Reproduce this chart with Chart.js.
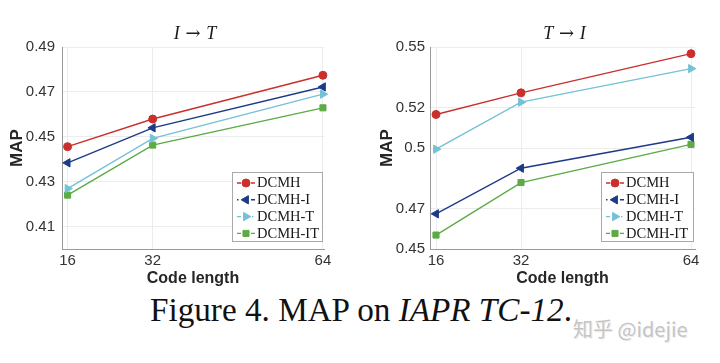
<!DOCTYPE html>
<html>
<head>
<meta charset="utf-8">
<script src="https://cdn.jsdelivr.net/npm/chart.js"></script>
<style>
  html, body { margin: 0; padding: 0; background: #fff; }
  body { width: 720px; height: 363px; position: relative; overflow: hidden; }
  .cv { position: absolute; top: 0; }
  #caption { position: absolute; left: 150px; top: 293px; font-family: "Liberation Serif", "Times New Roman", serif; font-size: 33.2px; line-height: 34px; color: #111; white-space: nowrap; }
  #watermark { position: absolute; left: 573px; top: 316px; font-family: "Noto Sans CJK SC", "Noto Sans", sans-serif; font-size: 20px; line-height: 26px; color: #c4c4c4; white-space: nowrap; text-shadow: 0 0 1px #fff, 1px 1px 1px #e8e8e8; }
</style>
</head>
<body>
<div class="cv" style="left:0px;width:360px;height:290px;"><canvas id="c1" width="360" height="290"></canvas></div>
<div class="cv" style="left:360px;width:360px;height:290px;"><canvas id="c2" width="360" height="290"></canvas></div>
<div id="caption">Figure 4. MAP on <i>IAPR TC-12</i>.</div>
<div id="watermark">知乎 @idejie</div>
<script>
// ---------- data ----------
const codeLengths = [16, 32, 64];
const seriesNames = ['DCMH', 'DCMH-I', 'DCMH-T', 'DCMH-IT'];

// I -> T
const i2tDCMH    = [0.4456, 0.4579, 0.4774];
const i2tDCMH_I  = [0.4384, 0.4540, 0.4722];
const i2tDCMH_T  = [0.4269, 0.4493, 0.4690];
const i2tDCMH_IT = [0.4240, 0.4463, 0.4629];

// T -> I
const t2iDCMH    = [0.5166, 0.5273, 0.5467];
const t2iDCMH_I  = [0.4674, 0.4900, 0.5053];
const t2iDCMH_T  = [0.4994, 0.5227, 0.5393];
const t2iDCMH_IT = [0.4569, 0.4829, 0.5018];

const yTicksI2T = [0.41, 0.43, 0.45, 0.47, 0.49];
const yTickLabelsI2T = ['0.41', '0.43', '0.45', '0.47', '0.49'];
const yTicksT2I = [0.45, 0.47, 0.5, 0.52, 0.55];
const yTickLabelsT2I = ['0.45', '0.47', '0.5', '0.52', '0.55'];
const xTickLabels = ['16', '32', '64'];

// ---------- styles ----------
const styles = [
  { color: '#c9302c', pointStyle: 'circle',   radius: 4,   rotation: 0,   dash: [4, 10] },
  { color: '#1d3a86', pointStyle: 'triangle', radius: 4.8, rotation: -90, dash: [1.5, 12.5, 4, 10] },
  { color: '#74c2d6', pointStyle: 'triangle', radius: 4.8, rotation: 90,  dash: [4, 11, 1.5, 10] },
  { color: '#5cab45', pointStyle: 'rect',     radius: 4.3, rotation: 0,   dash: [4, 10] }
];

function makeDatasets(seriesList) {
  return seriesList.map((vals, si) => ({
    label: seriesNames[si],
    data: codeLengths.map((x, i) => ({ x: x, y: vals[i] })),
    borderColor: styles[si].color,
    backgroundColor: styles[si].color,
    pointBackgroundColor: styles[si].color,
    pointBorderColor: styles[si].color,
    borderWidth: 1.4,
    pointBorderWidth: 1,
    pointStyle: styles[si].pointStyle,
    pointRadius: styles[si].radius,
    pointRotation: styles[si].rotation,
    pointHoverRadius: styles[si].radius,
    tension: 0,
    clip: false,
    legendDash: styles[si].dash
  }));
}

function drawMarker(ctx, style, r, rot, x, y) {
  if (Chart.helpers && Chart.helpers.drawPoint) {
    Chart.helpers.drawPoint(ctx, { pointStyle: style, radius: r, rotation: rot, borderWidth: 1 }, x, y);
    return;
  }
  ctx.beginPath();
  if (style === 'circle') ctx.arc(x, y, r, 0, Math.PI * 2);
  else if (style === 'rect') { const s = Math.SQRT1_2 * r; ctx.rect(x - s, y - s, 2 * s, 2 * s); }
  else {
    let a = rot * Math.PI / 180;
    ctx.moveTo(x + Math.sin(a) * r, y - Math.cos(a) * r);
    a += 2 * Math.PI / 3; ctx.lineTo(x + Math.sin(a) * r, y - Math.cos(a) * r);
    a += 2 * Math.PI / 3; ctx.lineTo(x + Math.sin(a) * r, y - Math.cos(a) * r);
    ctx.closePath();
  }
  ctx.fill(); ctx.stroke();
}

const boxLegendPlugin = {
  id: 'boxLegend',
  afterDatasetsDraw(chart, args, opts) {
    const ctx = chart.ctx;
    ctx.save();
    ctx.fillStyle = '#ffffff';
    ctx.fillRect(opts.x, opts.y, opts.w, opts.h);
    ctx.strokeStyle = '#a9a9a9';
    ctx.lineWidth = 1;
    ctx.strokeRect(opts.x + 0.5, opts.y + 0.5, opts.w, opts.h);
    chart.data.datasets.forEach((ds, i) => {
      const cy = opts.y + opts.rowStart + i * opts.rowGap;
      const x0 = opts.x + 5;
      ctx.strokeStyle = ds.borderColor;
      ctx.lineWidth = 1.4;
      ctx.setLineDash(ds.legendDash);
      ctx.beginPath();
      ctx.moveTo(x0, cy);
      ctx.lineTo(x0 + 18, cy);
      ctx.stroke();
      ctx.setLineDash([]);
      ctx.fillStyle = ds.pointBackgroundColor;
      ctx.strokeStyle = ds.pointBorderColor;
      ctx.lineWidth = 1;
      drawMarker(ctx, ds.pointStyle, ds.pointRadius, ds.pointRotation, x0 + 9, cy);
      ctx.fillStyle = '#1a1a1a';
      ctx.font = '14.5px "Liberation Serif", "Times New Roman", serif';
      ctx.textBaseline = 'middle';
      ctx.textAlign = 'left';
      ctx.fillText(ds.label, x0 + 20, cy + 0.5);
    });
    ctx.restore();
  }
};

// title like "I → T": italic letters, long upright arrow
const topTitlePlugin = {
  id: 'topTitle',
  afterDraw(chart, args, opts) {
    const ctx = chart.ctx;
    const ca = chart.chartArea;
    ctx.save();
    ctx.fillStyle = '#1a1a1a';
    ctx.textBaseline = 'alphabetic';
    ctx.textAlign = 'left';
    const letterFont = 'italic 18px "Liberation Serif", "Times New Roman", serif';
    const arrowFont = '18px "DejaVu Serif", "Liberation Serif", serif';
    const parts = [
      { t: opts.left, f: letterFont },
      { t: ' \u2192 ', f: arrowFont },
      { t: opts.right, f: letterFont }
    ];
    let total = 0;
    parts.forEach(p => { ctx.font = p.f; p.w = ctx.measureText(p.t).width; total += p.w; });
    let x = (ca.left + ca.right) / 2 + opts.dx - total / 2;
    const y = 39;
    parts.forEach(p => { ctx.font = p.f; ctx.fillText(p.t, x, y); x += p.w; });
    ctx.restore();
  }
};

function makeChart(id, seriesList, cfg) {
  return new Chart(document.getElementById(id), {
    type: 'line',
    data: { datasets: makeDatasets(seriesList) },
    plugins: [boxLegendPlugin, topTitlePlugin],
    options: {
      responsive: false,
      animation: false,
      events: [],
      layout: { padding: { top: 47, left: 0, right: cfg.padRight, bottom: 0 } },
      plugins: {
        legend: { display: false },
        tooltip: { enabled: false },
        title: { display: false },
        boxLegend: cfg.legend,
        topTitle: { left: cfg.titleLeft, right: cfg.titleRight, dx: 2 }
      },
      scales: {
        x: {
          type: 'linear',
          min: cfg.xMin, max: cfg.xMax,
          afterBuildTicks: (s) => { s.ticks = codeLengths.map(v => ({ value: v })); },
          afterFit: (s) => { s.height = 41; },
          ticks: {
            autoSkip: false, maxRotation: 0, padding: 3,
            color: '#333333',
            font: { family: '"Liberation Sans", Arial, sans-serif', size: 15 },
            callback: (v, i) => xTickLabels[i]
          },
          grid: { color: '#ececec', lineWidth: 1, drawTicks: false },
          border: { color: '#9a9a9a', width: 1 },
          title: {
            display: true, text: 'Code length', color: '#262626',
            font: { family: '"Liberation Sans", Arial, sans-serif', size: 16, weight: 'bold' },
            padding: { top: 0, bottom: 2 }
          }
        },
        y: {
          type: 'linear',
          min: cfg.yMin, max: cfg.yMax,
          afterBuildTicks: (s) => { s.ticks = cfg.yTicks.map(v => ({ value: v })); },
          afterFit: (s) => { s.width = cfg.yWidth; },
          ticks: {
            autoSkip: false, padding: cfg.yTickPad,
            color: '#333333',
            font: { family: '"Liberation Sans", Arial, sans-serif', size: 15 },
            callback: (v, i) => cfg.yLabels[i]
          },
          grid: { color: '#ececec', lineWidth: 1, drawTicks: false },
          border: { color: '#9a9a9a', width: 1 },
          title: {
            display: true, text: 'MAP', color: '#262626',
            font: { family: '"Liberation Sans", Arial, sans-serif', size: 17, weight: 'bold' },
            padding: { top: cfg.yTitlePad, bottom: 0 }
          }
        }
      }
    }
  });
}

makeChart('c1', [i2tDCMH, i2tDCMH_I, i2tDCMH_T, i2tDCMH_IT], {
  titleLeft: 'I', titleRight: 'T',
  padRight: 36, yWidth: 62, yTickPad: 7, yTitlePad: 7,
  xMin: 14.95, xMax: 64.2,
  yMin: 0.40, yMax: 0.49, yTicks: yTicksI2T, yLabels: yTickLabelsI2T,
  legend: { x: 232, y: 172, w: 90, h: 69, rowStart: 11, rowGap: 16.8 }
});

makeChart('c2', [t2iDCMH, t2iDCMH_I, t2iDCMH_T, t2iDCMH_IT], {
  titleLeft: 'T', titleRight: 'I',
  padRight: 25, yWidth: 70, yTickPad: 5, yTitlePad: 17,
  xMin: 14.87, xMax: 64.75,
  yMin: 0.45, yMax: 0.55, yTicks: yTicksT2I, yLabels: yTickLabelsT2I,
  legend: { x: 241, y: 172, w: 92, h: 69, rowStart: 11, rowGap: 16.8 }
});
</script>
</body>
</html>
